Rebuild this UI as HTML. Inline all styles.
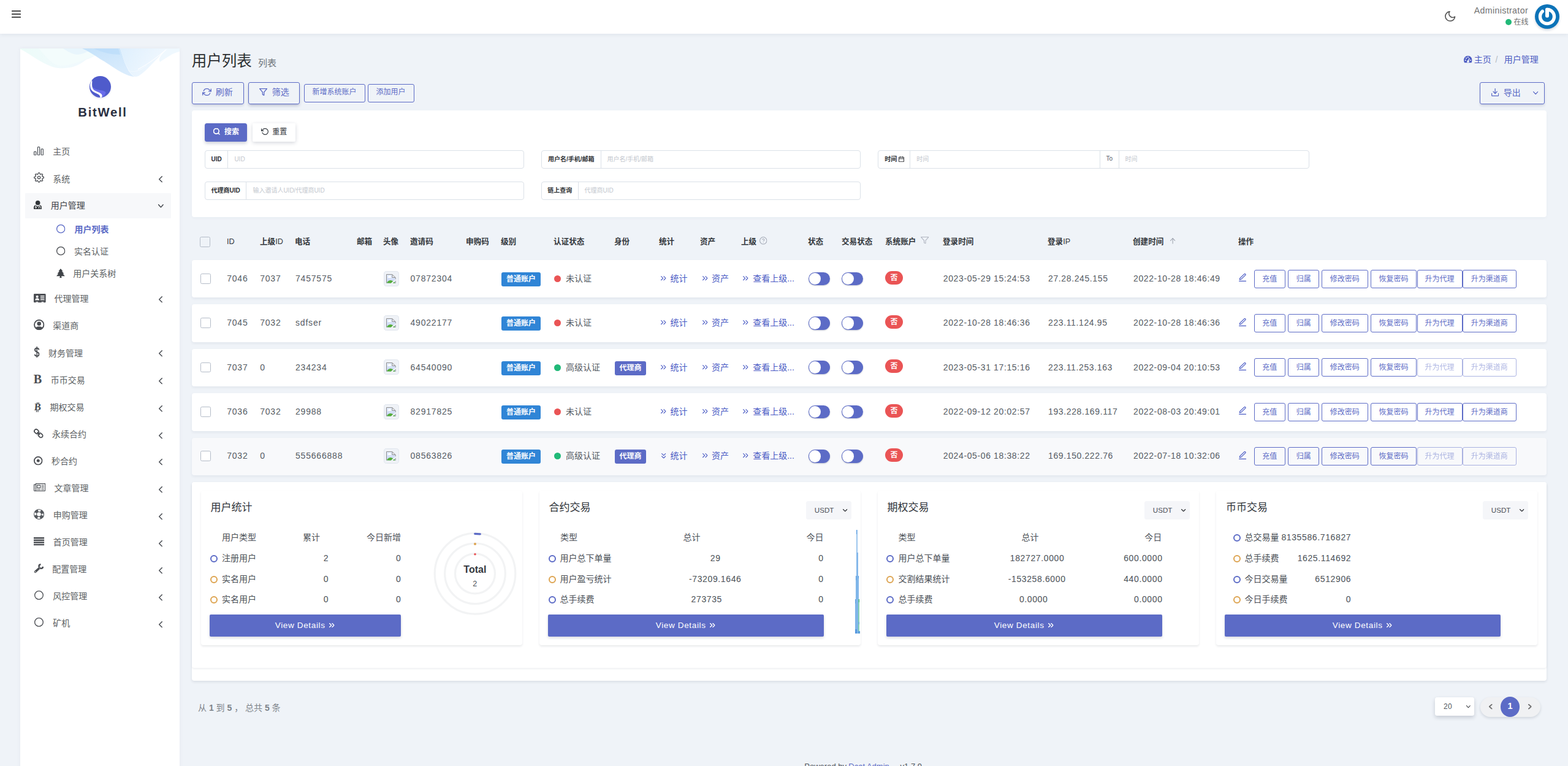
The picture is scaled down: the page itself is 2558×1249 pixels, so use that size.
<!DOCTYPE html>
<html lang="zh-CN">
<head>
<meta charset="utf-8">
<title>用户列表</title>
<style>
*{box-sizing:border-box;margin:0;padding:0}
html,body{width:2558px;height:1249px;overflow:hidden}
body{position:relative;background:#eff3f8;font-family:"Liberation Sans","Noto Sans CJK SC",sans-serif;font-size:14px;color:#414750;-webkit-font-smoothing:antialiased}
.a{position:absolute}
.t{position:absolute;white-space:nowrap}
.i{position:absolute;overflow:visible;fill:none;stroke:currentColor;stroke-width:2;stroke-linecap:round;stroke-linejoin:round}
.f{fill:currentColor;stroke:none}
.box{position:absolute;background:#fff;border-radius:4px}
.btn{position:absolute;border:1px solid #5c6bc6;border-radius:3px;color:#5c6bc6;text-align:center;white-space:nowrap}
.ob{position:absolute;top:16.200px;height:30px;line-height:29.400px;border:1px solid #5c6bc6;border-radius:3px;color:#5c6bc6;font-size:12px;text-align:center;white-space:nowrap;background:transparent}
.ob.dis{opacity:.5}
.row{position:absolute;left:313px;width:2209.500px;height:61.200px;background:#fff;border-radius:4px;box-shadow:0 2px 4px rgba(40,50,80,.07)}
.row .t{color:#555b63}
.cb{position:absolute;width:16.600px;height:16.400px;border:1.600px solid #b4bcc8;border-radius:2.500px;background:#fff}
.bd{position:absolute;height:23px;line-height:22px;border-radius:3px;color:#fff;font-size:12px;font-weight:700;text-align:center;white-space:nowrap}
.sw{position:absolute;width:35.200px;height:21.500px;border-radius:11px;background:#5c6bc6;box-shadow:0 1px 2px rgba(40,50,90,.25)}
.sw:after{content:"";position:absolute;left:1px;top:1px;width:19.500px;height:19.500px;border-radius:50%;background:#fff}
.ig{position:absolute;height:30px;border:1px solid #dbe1e8;border-radius:4px;background:#fff}
.ig .lb{position:absolute;left:0;top:0;bottom:0;border-right:1px solid #dbe1e8;font-size:10px;font-weight:700;color:#2c2f33;line-height:28.400px;text-align:center;white-space:nowrap}
.ig .ph{position:absolute;top:0;line-height:28.400px;font-size:10px;color:#c3c7ce;white-space:nowrap}
.card{position:absolute;top:800px;width:524px;height:252px;background:#fff;border-radius:4px;box-shadow:0 2px 3.500px rgba(30,40,60,.1)}
.vd{position:absolute;top:202px;height:36px;line-height:36px;background:#5c6bc6;border-radius:2px;color:#fff;font-size:14px;text-align:center;letter-spacing:.5px;box-shadow:0 2px 4px rgba(40,50,80,.18)}
.usdt{position:absolute;top:17px;width:73.500px;height:29.900px;background:#f5f6f9;border-radius:3.500px}
.dot{position:absolute;width:12px;height:12px;border-radius:50%;border:2px solid #5c6bc6;background:#fff}
.n{letter-spacing:.6px}
</style>
</head>
<body>
<svg width="0" height="0" style="position:absolute"><defs><symbol id="menu" viewBox="1.8 3.8 20.4 16.4" preserveAspectRatio="none"><line x1="3" y1="5" x2="21" y2="5"/><line x1="3" y1="12" x2="21" y2="12"/><line x1="3" y1="19" x2="21" y2="19"/></symbol><symbol id="moon" viewBox="2 2 20 20" preserveAspectRatio="none"><path d="M21 12.79A9 9 0 1 1 11.21 3 7 7 0 0 0 21 12.79z"/></symbol><symbol id="bars3" viewBox="0 0 16.100 14.600" preserveAspectRatio="none"><g stroke-width="1.300"><rect x=".65" y="8.050" width="3.200" height="5.900" rx=".9"/><rect x="6.450" y=".65" width="3.200" height="13.300" rx=".9"/><rect x="12.250" y="3.900" width="3.200" height="10.050" rx=".9"/></g></symbol><symbol id="gear" viewBox="0 0 24 24" preserveAspectRatio="none"><circle cx="12" cy="12" r="3"/><path d="M19.4 15a1.65 1.65 0 0 0 .33 1.82l.06.06a2 2 0 0 1 0 2.83 2 2 0 0 1-2.83 0l-.06-.06a1.65 1.65 0 0 0-1.82-.33 1.65 1.65 0 0 0-1 1.51V21a2 2 0 0 1-2 2 2 2 0 0 1-2-2v-.09A1.65 1.65 0 0 0 9 19.4a1.65 1.65 0 0 0-1.82.33l-.06.06a2 2 0 0 1-2.83 0 2 2 0 0 1 0-2.83l.06-.06a1.65 1.65 0 0 0 .33-1.82 1.65 1.65 0 0 0-1.51-1H3a2 2 0 0 1-2-2 2 2 0 0 1 2-2h.09A1.65 1.65 0 0 0 4.6 9a1.65 1.65 0 0 0-.33-1.82l-.06-.06a2 2 0 0 1 0-2.83 2 2 0 0 1 2.83 0l.06.06a1.65 1.65 0 0 0 1.82.33H9a1.65 1.65 0 0 0 1-1.51V3a2 2 0 0 1 2-2 2 2 0 0 1 2 2v.09a1.65 1.65 0 0 0 1 1.51 1.65 1.65 0 0 0 1.82-.33l.06-.06a2 2 0 0 1 2.83 0 2 2 0 0 1 0 2.83l-.06.06a1.65 1.65 0 0 0-.33 1.82V9a1.65 1.65 0 0 0 1.51 1H21a2 2 0 0 1 2 2 2 2 0 0 1-2 2h-.09a1.65 1.65 0 0 0-1.51 1z"/></symbol><symbol id="refresh" viewBox="0 2 24 20" preserveAspectRatio="none"><polyline points="23 4 23 10 17 10"/><polyline points="1 20 1 14 7 14"/><path d="M3.51 9a9 9 0 0 1 14.85-3.36L23 10M1 14l4.64 4.36A9 9 0 0 0 20.49 15"/></symbol><symbol id="filter" viewBox="1 2 22 20" preserveAspectRatio="none"><polygon points="22 3 2 3 10 12.46 10 19 14 21 14 12.46 22 3"/></symbol><symbol id="download" viewBox="2 2 20 20" preserveAspectRatio="none"><path d="M21 15v4a2 2 0 0 1-2 2H5a2 2 0 0 1-2-2v-4"/><polyline points="7 10 12 15 17 10"/><line x1="12" y1="15" x2="12" y2="3"/></symbol><symbol id="cdown" viewBox="5 8 14 8" preserveAspectRatio="none"><polyline points="6 9 12 15 18 9"/></symbol><symbol id="cleft" viewBox="8 5 8 14" preserveAspectRatio="none"><polyline points="15 18 9 12 15 6"/></symbol><symbol id="cright" viewBox="8 5 8 14" preserveAspectRatio="none"><polyline points="9 18 15 12 9 6"/></symbol><symbol id="search" viewBox="2 2 20 20" preserveAspectRatio="none"><circle cx="11" cy="11" r="8"/><line x1="21" y1="21" x2="16.65" y2="16.65"/></symbol><symbol id="rotate" viewBox="0 2 22 20" preserveAspectRatio="none"><polyline points="1 4 1 10 7 10"/><path d="M3.51 15a9 9 0 1 0 2.13-9.36L1 10"/></symbol><symbol id="calendar" viewBox="2 1 20 22" preserveAspectRatio="none"><rect x="3" y="4" width="18" height="18" rx="2" ry="2"/><line x1="16" y1="2" x2="16" y2="6"/><line x1="8" y1="2" x2="8" y2="6"/><line x1="3" y1="10" x2="21" y2="10"/></symbol><symbol id="help" viewBox="1 1 22 22" preserveAspectRatio="none"><circle cx="12" cy="12" r="10"/><path d="M9.09 9a3 3 0 0 1 5.83 1c0 2-3 3-3 3"/><line x1="12" y1="17" x2="12.01" y2="17"/></symbol><symbol id="aup" viewBox="4 3 16 18" preserveAspectRatio="none"><line x1="12" y1="20" x2="12" y2="4"/><polyline points="5 11 12 4 19 11"/></symbol><symbol id="edit" viewBox="2 1 20 22" preserveAspectRatio="none"><path d="M3 22h18"/><path d="M16.5 2.5a2.121 2.121 0 0 1 3 3L8 17l-4 1 1-4L16.5 2.5z"/></symbol><symbol id="cc-right" viewBox="5 6 14 12" preserveAspectRatio="none"><polyline points="13 17 18 12 13 7"/><polyline points="6 17 11 12 6 7"/></symbol><symbol id="cc-down" viewBox="6 5 12 14" preserveAspectRatio="none"><polyline points="7 13 12 18 17 13"/><polyline points="7 6 12 11 17 6"/></symbol><symbol id="circle" viewBox="1 1 22 22" preserveAspectRatio="none"><circle cx="12" cy="12" r="10"/></symbol><symbol id="user-md" viewBox="0 0 13.200 14.100" preserveAspectRatio="none"><g class="f"><circle cx="6.700" cy="3.800" r="3.800"/><path d="M3.300 7.300C1.200 7.700 0 9.300 0 12v.9c0 .7.500 1.200 1.200 1.200h10.800c.7 0 1.200-.5 1.200-1.200V12c0-2.700-1.200-4.300-3.300-4.700L6.600 9.900z"/></g><g fill="none" stroke="#fff" stroke-width=".9"><path d="M3.400 8v2.200"/><circle cx="3.400" cy="11.300" r="1.100"/><path d="M9.800 8v1.600M8.300 12.600v-1.500a1.500 1.500 0 0 1 3 0v1.500"/></g></symbol><symbol id="tree" viewBox="0 0 14 15.300" preserveAspectRatio="none"><path class="f" d="M7 0l3.600 4.200H9l3.500 4H10.600l3.400 4.100H8.300v1.600c0 .5.600.9 1.300 1v.4H4.400v-.4c.7-.1 1.300-.5 1.300-1v-1.600H0l3.400-4.100H1.500l3.500-4H3.400z"/></symbol><symbol id="idcard" viewBox="0 0 19.800 14.400" preserveAspectRatio="none"><rect class="f" x="0" y="0" width="19.800" height="14.400" rx="1.400"/><g fill="#fff" stroke="none"><circle cx="5.700" cy="4.800" r="2"/><path d="M2.300 10.600c0-2.300 1.300-3.400 3.400-3.400s3.400 1.100 3.400 3.400z"/><rect x="11" y="3" width="6.400" height="1.500"/><rect x="11" y="5.900" width="6.400" height="1.500"/><rect x="11" y="8.800" width="6.400" height="1.500"/><rect x="3.600" y="13.100" width="3.600" height="1.300"/><rect x="12.600" y="13.100" width="3.600" height="1.300"/></g></symbol><symbol id="user-circle" viewBox="0 0 17.500 17.200" preserveAspectRatio="none"><defs><clipPath id="ucc"><circle cx="8.750" cy="8.600" r="7.600"/></clipPath></defs><circle cx="8.750" cy="8.600" r="7.700" stroke-width="1.900"/><g class="f" clip-path="url(#ucc)"><circle cx="8.750" cy="6.700" r="3.300"/><path d="M2.200 15.500c.6-3 3.200-4.300 6.550-4.300s5.950 1.300 6.550 4.300l-2 2H4.200z"/></g></symbol><symbol id="dollar" viewBox="0 0 8.500 18.300" preserveAspectRatio="none"><g stroke-width="1.900" stroke-linecap="butt"><path d="M4.250 0v18.300" stroke-width="1.500"/><path d="M7.700 5.500C7.200 3.700 6 2.700 4.200 2.700 2.200 2.700.95 3.900.95 5.500c0 2 1.600 2.700 3.300 3.400 1.900.7 3.400 1.500 3.400 3.500s-1.500 3.200-3.500 3.200c-1.900 0-3.200-1-3.600-2.800"/></g></symbol><symbol id="chain" viewBox="0 0 15.700 15.400" preserveAspectRatio="none"><g stroke-width="1.800"><rect x="-3.700" y="-2.900" width="7.400" height="5.800" rx="2.600" transform="translate(4.600 4.500) rotate(45)"/><rect x="-3.700" y="-2.900" width="7.400" height="5.800" rx="2.600" transform="translate(11.100 10.900) rotate(45)"/><path d="M6.200 6.100l3.300 3.200" stroke-width="2"/></g></symbol><symbol id="dotcircle" viewBox="0 0 14.600 14.600" preserveAspectRatio="none"><circle cx="7.300" cy="7.300" r="6.400" stroke-width="1.800"/><circle class="f" cx="7.300" cy="7.300" r="2.500"/></symbol><symbol id="news" viewBox="0 0 19.400 13.300" preserveAspectRatio="none"><g stroke-width="1.250" stroke-linejoin="round"><path d="M3.500 .65h15.200v10.900a1.100 1.100 0 0 1-1.100 1.100H1.900a1.250 1.250 0 0 1-1.250-1.250V2.100h2.800"/><path d="M3.500 .65v10.600a1.250 1.250 0 0 1-1.600 1.300"/><rect x="5.700" y="3.100" width="5" height="4.600" stroke-width="1.200"/><path d="M12.600 3.200h4.100M12.600 5.500h4.100M12.600 7.700h4.100" stroke-width="1.100" stroke-linecap="butt"/><path d="M5.200 10.400h5.900M12.300 10.400h4.700" stroke-width="1.600" stroke-linecap="butt" opacity=".65"/></g></symbol><symbol id="lifering" viewBox="0 0 17.100 17.100" preserveAspectRatio="none"><circle cx="8.550" cy="8.550" r="5.950" stroke-width="4.300" stroke-linecap="butt" stroke-dasharray="5.300 4.046" stroke-dashoffset="-2.020"/><circle cx="8.550" cy="8.550" r="8" stroke-width="1.100"/><circle cx="8.550" cy="8.550" r="3.850" stroke-width="1.100"/></symbol><symbol id="justify" viewBox="0 0 17.300 13.500" preserveAspectRatio="none"><g class="f"><rect x="0" y="0" width="17.300" height="2.500"/><rect x="0" y="3.700" width="17.300" height="2.500"/><rect x="0" y="7.350" width="17.300" height="2.500"/><rect x="0" y="11" width="17.300" height="2.500"/></g></symbol><symbol id="wrench" viewBox="0 0 16 15.700" preserveAspectRatio="none"><path d="M15.090 4.890A3.300 3.300 0 1 1 11.510 1.310" stroke-width="2.400" stroke-linecap="butt"/><path d="M9.500 7L2.500 13.400" stroke-width="3.500" stroke-linecap="round"/><path d="M8.300 5.700l2.100 2.300" stroke="#fff" stroke-width=".6" stroke-linecap="butt"/><circle cx="2.700" cy="13.200" r=".8" fill="#fff" stroke="none"/></symbol><symbol id="dash" viewBox=".4 2.600 23.200 18.600" preserveAspectRatio="none"><path class="f" d="M12 2.600C5.400 2.600.4 7.800.4 14.200c0 2.300.7 4.500 1.900 6.300.3.500.8.700 1.300.7h16.800c.5 0 1-.2 1.300-.7 1.200-1.800 1.900-4 1.900-6.300C23.600 7.800 18.600 2.600 12 2.600z"/><g fill="#eff3f8" stroke="none"><circle cx="5" cy="14.400" r="1.700"/><circle cx="7.200" cy="8.800" r="1.700"/><circle cx="12" cy="6.400" r="1.700"/><circle cx="19" cy="14.400" r="1.700"/><path d="M15.400 8.300l1.900.6-2.700 6.300a3.100 3.100 0 1 1-2.400-1z"/></g></symbol><symbol id="broken" viewBox="0 0 16 15.500" preserveAspectRatio="none"><defs><linearGradient id="bsky" x1="0" y1="0" x2="0" y2="1"><stop offset="0" stop-color="#e6eefc"/><stop offset="1" stop-color="#c3d2f2"/></linearGradient></defs><g stroke="none"><path d="M.5 .5H9.800L15.400 5.700V15H.5Z" fill="url(#bsky)"/><ellipse cx="5.400" cy="4.700" rx="2.900" ry="1.250" fill="#fff"/><circle cx="5.600" cy="3.900" r="1.400" fill="#fff"/><path d="M.9 14.700C2.200 11.600 5 10 8 10.200C9.600 10.300 10.700 10.900 11.500 11.600L8.300 14.900Z" fill="#55ad3a"/><path d="M15.600 7.800L7.300 15.600H10.600L15.600 10.800Z" fill="#f0f3f7"/><path d="M10.900 14.900L13.300 12.500L15 14.900Z" fill="#55ad3a"/><path d="M10 .7V5.400H15.200Z" fill="#f3f5f8"/></g><g fill="none" stroke="#8d8d8d" stroke-width="1" stroke-linecap="butt" stroke-linejoin="miter"><path d="M.5 14.600V.5H9.800L15.400 5.700V8.300M15.400 11V14.800M10 .7V5.500H15.200"/></g></symbol></defs></svg>
<!-- ===== top navbar ===== -->
<div class="a" style="left:0;top:0;width:2558px;height:55px;background:#fff;box-shadow:0 1px 7px rgba(60,75,110,.10)"></div>
<div class="a" style="left:19px;top:17px;width:14.800px;height:2px;border-radius:.6px;background:#4d4d4d"></div><div class="a" style="left:19px;top:21.900px;width:14.800px;height:2px;border-radius:.6px;background:#4d4d4d"></div><div class="a" style="left:19px;top:26.800px;width:14.800px;height:2px;border-radius:.6px;background:#4d4d4d"></div>
<svg class="i" style="left:2356.6px;top:18.3px;width:17.5px;height:17.1px;color:#555;stroke-width:1.908;"><use href="#moon"/></svg>
<span class="t" style="right:65px;top:7.20px;line-height:20px;font-size:14.2px;color:#727272;letter-spacing:0.36px;">Administrator</span>
<div class="a" style="left:2456px;top:30.6px;width:10.4px;height:10.4px;border-radius:50%;background:#21b978"></div>
<span class="t" style="right:64.5px;top:25.80px;line-height:20px;font-size:12px;color:#6e6e6e;">在线</span>
<svg class="a" style="left:2498px;top:1px;width:52px;height:56px;overflow:visible" viewBox="0 0 52 56"><defs><filter id="avs" x="-30%" y="-30%" width="160%" height="170%"><feGaussianBlur stdDeviation="2.2"/></filter></defs><circle cx="26" cy="28.500" r="19" fill="rgba(40,50,80,.28)" filter="url(#avs)"/><circle cx="26" cy="26" r="20" fill="#0c73b8"/><path d="M26 14.500A11.500 11.500 0 1 1 18.300 17.450" fill="none" stroke="#fff" stroke-width="5.400" stroke-linecap="round"/><path d="M26 14.700V24.700" stroke="#fff" stroke-width="6" stroke-linecap="round" fill="none"/></svg>
<!-- ===== sidebar ===== -->
<div class="a" style="left:33px;top:79px;width:260px;height:1180px;background:#fff;box-shadow:0 0 6px rgba(60,75,110,.06)"></div>
<svg class="a" style="left:33px;top:79px;width:260px;height:60px" viewBox="0 0 260 60">
<defs>
<linearGradient id="wg1" x1="0" y1="0" x2="1" y2="0"><stop offset="0" stop-color="#e9fbf7"/><stop offset=".5" stop-color="#eef9fc"/><stop offset="1" stop-color="#eef7fe"/></linearGradient>
<linearGradient id="wg2" x1="0" y1="0" x2=".6" y2="1"><stop offset="0" stop-color="#bfdffa"/><stop offset="1" stop-color="#d6eafc"/></linearGradient>
<linearGradient id="wg3" x1="0" y1="0" x2="1" y2=".4"><stop offset="0" stop-color="#dceefd"/><stop offset="1" stop-color="#f1f8fe"/></linearGradient>
</defs>
<path d="M0 0H140C128 8 120 14 108 18C92 31 78 33 62 32C42 30 18 10 0 1Z" fill="url(#wg1)" opacity=".85"/>
<path d="M30 0H150C138 4 126 10 116 14C100 20 84 28 66 28C50 27 40 10 30 0Z" fill="#f3fcfc" opacity=".9"/>
<path d="M70 0H118C110 6 100 10 92 10C84 9 76 4 70 0Z" fill="#e2f2fc" opacity=".7"/>
<path d="M101 0H163L170 22C176 36 181 44 187 46C168 45 150 28 130 17C120 10 110 4 101 0Z" fill="url(#wg2)" opacity=".9"/>
<path d="M120 0H160L163 10C150 10 134 7 120 0Z" fill="#b5d9f9" opacity=".55"/>
<path d="M163 0H240C226 12 208 36 193 45C190 46 189 46 187 46C179 42 174 30 170 22Z" fill="url(#wg3)" opacity=".95"/>
<path d="M240 0H260V5C248 8 240 14 228 22C224 16 232 8 240 0Z" fill="#e9f5fe" opacity=".75"/>
<path d="M192 34C208 26 224 14 238 2" stroke="#fff" stroke-width="1.100" fill="none" opacity=".9"/>
<path d="M176 36C186 40 196 36 206 28" stroke="#fff" stroke-width=".7" fill="none" opacity=".6"/>
</svg>
<svg class="a" style="left:144px;top:122px;width:40px;height:42px;overflow:visible" viewBox="0 0 40 42">
<defs><clipPath id="lgc"><circle cx="19.500" cy="19.500" r="17.500"/></clipPath>
<filter id="lgs" x="-30%" y="-30%" width="160%" height="170%"><feGaussianBlur stdDeviation="1.500"/></filter></defs>
<circle cx="19.500" cy="21.500" r="16.500" fill="rgba(60,70,160,.22)" filter="url(#lgs)"/>
<circle cx="19.500" cy="19.500" r="17.500" fill="#4f5bcb"/>
<g clip-path="url(#lgc)">
<path d="M6.300 18.500C8.500 22.500 14 24.300 19 24.900C23 25.400 27 26.200 28.600 28.600C28.200 31.600 26.600 33.800 24.600 35.300L21.300 36.600C23 33.600 22 31.600 20 30.100C17 27.900 12 27.100 9 24.600C7.400 23.100 6.600 20.800 6.300 18.500Z" fill="#686bea"/>
<path d="M5.600 8.300C3.100 12.800 2.400 18 3.800 22.200C5 25.700 8 27.700 11 29.200C14 30.700 17 31.700 18.400 33.600C19.200 34.800 19.500 36 19.400 37.400L22 36.700C23.400 33.800 22.300 31.700 20.200 30.200C17.200 28 12.200 27.200 9.200 24.700C6.700 22.500 5.800 18.200 6.200 13.700C6.400 11.600 6.500 10 5.600 8.300Z" fill="#fff"/>
</g></svg>
<span class="t" style="left:127.3px;top:171.40px;line-height:24px;font-size:20.3px;color:#2a3042;font-weight:700;letter-spacing:1.7px;">BitWell</span>
<div class="a" style="left:40.5px;top:315px;width:238px;height:40.5px;background:#f7f8fa;border-radius:1px"></div>
<svg class="i" style="left:55.3px;top:238.5px;width:16.1px;height:14.6px;color:#555a60;"><use href="#bars3"/></svg>
<span class="t" style="left:86.3px;top:237.00px;line-height:20px;font-size:14px;color:#5c5f63;">主页</span>
<svg class="i" style="left:54.85px;top:281.1px;width:17.2px;height:16.9px;color:#4b4e53;stroke-width:1.900;"><use href="#gear"/></svg>
<span class="t" style="left:86.3px;top:281.50px;line-height:20px;font-size:14px;color:#5c5f63;">系统</span>
<svg class="i" style="left:259px;top:286.9px;width:6px;height:10.6px;color:#4a4e54;stroke-width:1.991;"><use href="#cleft"/></svg>
<svg class="i" style="left:54.85px;top:326.8px;width:13.2px;height:14.1px;color:#2f3337;"><use href="#user-md"/></svg>
<span class="t" style="left:82.8px;top:325.20px;line-height:20px;font-size:14px;color:#3e4146;">用户管理</span>
<svg class="i" style="left:258.3px;top:332.7px;width:8.8px;height:5.7px;color:#3c4046;stroke-width:2.237;"><use href="#cdown"/></svg>
<svg class="i" style="left:92.4px;top:366.1px;width:14.4px;height:14.4px;color:#5c6bc6;stroke-width:2.062;"><use href="#circle"/></svg>
<span class="t" style="left:121.5px;top:363.90px;line-height:20px;font-size:14px;color:#5c6bc6;font-weight:700;">用户列表</span>
<svg class="i" style="left:92.4px;top:402.4px;width:14.4px;height:14.4px;color:#4b4e53;stroke-width:2.062;"><use href="#circle"/></svg>
<span class="t" style="left:121px;top:400.00px;line-height:20px;font-size:14px;color:#5c5f63;">实名认证</span>
<svg class="i" style="left:92px;top:438px;width:13.9px;height:15.3px;color:#3f4348;"><use href="#tree"/></svg>
<span class="t" style="left:119.2px;top:436.00px;line-height:20px;font-size:14px;color:#5c5f63;">用户关系树</span>
<svg class="i" style="left:54.6px;top:478.5px;width:19.8px;height:14.4px;color:#4b4e53;"><use href="#idcard"/></svg>
<span class="t" style="left:88.5px;top:477.20px;line-height:20px;font-size:14px;color:#5c5f63;">代理管理</span>
<svg class="i" style="left:259px;top:482.9px;width:6px;height:10.6px;color:#4a4e54;stroke-width:1.991;"><use href="#cleft"/></svg>
<svg class="i" style="left:54.6px;top:521.2px;width:17.5px;height:17.2px;color:#4b4e53;"><use href="#user-circle"/></svg>
<span class="t" style="left:86.3px;top:521.30px;line-height:20px;font-size:14px;color:#5c5f63;">渠道商</span>
<svg class="i" style="left:55.9px;top:565.3px;width:8.5px;height:18.3px;color:#4b4e53;"><use href="#dollar"/></svg>
<span class="t" style="left:79px;top:565.60px;line-height:20px;font-size:14px;color:#5c5f63;">财务管理</span>
<svg class="i" style="left:259px;top:571.4px;width:6px;height:10.6px;color:#4a4e54;stroke-width:1.991;"><use href="#cleft"/></svg>
<span class="t" style="left:54.7px;top:607.10px;line-height:22px;font-size:20.2px;color:#4b4e53;font-weight:700;font-family:'Liberation Serif',serif;">B</span>
<span class="t" style="left:82.8px;top:610.00px;line-height:20px;font-size:14px;color:#5c5f63;">币币交易</span>
<svg class="i" style="left:259px;top:615.9px;width:6px;height:10.6px;color:#4a4e54;stroke-width:1.991;"><use href="#cleft"/></svg>
<span class="t" style="left:56.2px;top:654.60px;line-height:18px;font-size:16.6px;color:#4b4e53;font-weight:700;font-family:'Liberation Serif',serif;transform:skewX(-5deg);">B</span>
<svg class="a" style="left:55.600px;top:655.800px;width:12px;height:16px;overflow:visible;color:#4b4e53" viewBox="0 0 12 16"><path d="M4.600 0v2.900M7.100 0v2.900M3.500 13.300v2.700M6 13.300v2.700" stroke="currentColor" stroke-width="1.300" stroke-linecap="butt" fill="none"/></svg>
<span class="t" style="left:81.4px;top:654.30px;line-height:20px;font-size:14px;color:#5c5f63;">期权交易</span>
<svg class="i" style="left:259px;top:660.6999999999999px;width:6px;height:10.6px;color:#4a4e54;stroke-width:1.991;"><use href="#cleft"/></svg>
<svg class="i" style="left:55px;top:698.7px;width:15.7px;height:15.4px;color:#4b4e53;"><use href="#chain"/></svg>
<span class="t" style="left:85px;top:698.40px;line-height:20px;font-size:14px;color:#5c5f63;">永续合约</span>
<svg class="i" style="left:259px;top:704.6999999999999px;width:6px;height:10.6px;color:#4a4e54;stroke-width:1.991;"><use href="#cleft"/></svg>
<svg class="i" style="left:54.95px;top:743.7px;width:14.6px;height:14.6px;color:#4b4e53;"><use href="#dotcircle"/></svg>
<span class="t" style="left:84px;top:742.00px;line-height:20px;font-size:14px;color:#5c5f63;">秒合约</span>
<svg class="i" style="left:259px;top:748.4px;width:6px;height:10.6px;color:#4a4e54;stroke-width:1.991;"><use href="#cleft"/></svg>
<svg class="i" style="left:55px;top:787.6px;width:19.4px;height:13.3px;color:#505459;"><use href="#news"/></svg>
<span class="t" style="left:88.5px;top:786.10px;line-height:20px;font-size:14px;color:#5c5f63;">文章管理</span>
<svg class="i" style="left:259px;top:792.6999999999999px;width:6px;height:10.6px;color:#4a4e54;stroke-width:1.991;"><use href="#cleft"/></svg>
<svg class="i" style="left:55px;top:830.2px;width:17.1px;height:17.1px;color:#55595e;"><use href="#lifering"/></svg>
<span class="t" style="left:86.7px;top:830.20px;line-height:20px;font-size:14px;color:#5c5f63;">申购管理</span>
<svg class="i" style="left:259px;top:836.9px;width:6px;height:10.6px;color:#4a4e54;stroke-width:1.991;"><use href="#cleft"/></svg>
<svg class="i" style="left:54.95px;top:875.7px;width:17.3px;height:13.5px;color:#4b4e53;"><use href="#justify"/></svg>
<span class="t" style="left:86.7px;top:873.90px;line-height:20px;font-size:14px;color:#5c5f63;">首页管理</span>
<svg class="i" style="left:259px;top:880.8px;width:6px;height:10.6px;color:#4a4e54;stroke-width:1.991;"><use href="#cleft"/></svg>
<svg class="i" style="left:55px;top:919.3px;width:16px;height:15.7px;color:#4b4e53;"><use href="#wrench"/></svg>
<span class="t" style="left:85.3px;top:918.30px;line-height:20px;font-size:14px;color:#5c5f63;">配置管理</span>
<svg class="i" style="left:259px;top:924.9px;width:6px;height:10.6px;color:#4a4e54;stroke-width:1.991;"><use href="#cleft"/></svg>
<svg class="i" style="left:55.9px;top:963.1px;width:15px;height:15px;color:#4b4e53;stroke-width:1.980;"><use href="#circle"/></svg>
<span class="t" style="left:86.3px;top:962.30px;line-height:20px;font-size:14px;color:#5c5f63;">风控管理</span>
<svg class="i" style="left:259px;top:968.9px;width:6px;height:10.6px;color:#4a4e54;stroke-width:1.991;"><use href="#cleft"/></svg>
<svg class="i" style="left:55.9px;top:1006.9px;width:15px;height:15px;color:#4b4e53;stroke-width:1.980;"><use href="#circle"/></svg>
<span class="t" style="left:86.3px;top:1006.40px;line-height:20px;font-size:14px;color:#5c5f63;">矿机</span>
<svg class="i" style="left:259px;top:1012.9px;width:6px;height:10.6px;color:#4a4e54;stroke-width:1.991;"><use href="#cleft"/></svg>
<!-- ===== page title + breadcrumb ===== -->
<span class="t" style="left:312.7px;top:85.00px;line-height:30px;font-size:24.5px;color:#2b2e31;">用户列表</span>
<span class="t" style="left:421px;top:92.50px;line-height:20px;font-size:15px;color:#6d747b;">列表</span>
<svg class="i" style="left:2387.5px;top:91px;width:13.6px;height:11.6px;color:#4c5bc2;"><use href="#dash"/></svg>
<span class="t" style="left:2404.8px;top:87.20px;line-height:20px;font-size:14px;color:#4c5bc2;">主页</span>
<span class="t" style="left:2439.5px;top:87.20px;line-height:20px;font-size:14px;color:#b5bac2;">/</span>
<span class="t" style="left:2453.8px;top:87.20px;line-height:20px;font-size:14px;color:#4c5bc2;">用户管理</span>
<!-- ===== toolbar ===== -->
<div class="btn" style="left:313px;top:134px;width:85px;height:36px;box-shadow:0 3px 4px -1px rgba(60,70,120,.22);"></div>
<svg class="i" style="left:330.3px;top:143.7px;width:14.9px;height:12.1px;color:#5c6bc6;stroke-width:2.121;"><use href="#refresh"/></svg>
<span class="t" style="left:351.8px;top:140.20px;line-height:20px;font-size:14px;color:#5c6bc6;">刷新</span>
<div class="btn" style="left:405px;top:134px;width:84px;height:36px;box-shadow:0 3px 5px -1px rgba(50,60,110,.32);"></div>
<svg class="i" style="left:422.8px;top:144px;width:13.1px;height:11.9px;color:#5c6bc6;stroke-width:2.184;"><use href="#filter"/></svg>
<span class="t" style="left:443.8px;top:140.20px;line-height:20px;font-size:14px;color:#5c6bc6;">筛选</span>
<div class="btn" style="left:496px;top:137px;width:100px;height:30px"></div>
<span class="t" style="left:509.6px;top:140.40px;line-height:20px;font-size:12px;color:#5c6bc6;">新增系统账户</span>
<div class="btn" style="left:600px;top:137px;width:76px;height:30px"></div>
<span class="t" style="left:613.5px;top:140.40px;line-height:20px;font-size:12px;color:#5c6bc6;">添加用户</span>
<div class="btn" style="left:2414px;top:134px;width:106px;height:36px;box-shadow:0 3px 4px -1px rgba(60,70,120,.22);"></div>
<svg class="i" style="left:2432.8px;top:144px;width:12.3px;height:13.1px;color:#5c6bc6;stroke-width:2.047;"><use href="#download"/></svg>
<span class="t" style="left:2452.7px;top:141.00px;line-height:20px;font-size:14px;color:#5c6bc6;">导出</span>
<svg class="i" style="left:2500.9px;top:149.1px;width:8.4px;height:5.1px;color:#5c6bc6;stroke-width:2.101;"><use href="#cdown"/></svg>
<!-- ===== filter panel ===== -->
<div class="box" style="left:313px;top:179.5px;width:2209.5px;height:174.5px;box-shadow:0 2px 4px rgba(40,50,80,.03)"></div>
<div class="a" style="left:334px;top:201px;width:69px;height:30px;background:#5c6bc6;border-radius:3.5px;box-shadow:0 3px 5px rgba(40,50,90,.22)"></div>
<svg class="i" style="left:348.1px;top:209.1px;width:10.8px;height:10.8px;color:#fff;stroke-width:3.148;"><use href="#search"/></svg>
<span class="t" style="left:366px;top:205.20px;line-height:20px;font-size:12px;color:#fff;font-weight:700;">搜索</span>
<div class="a" style="left:412px;top:201px;width:70px;height:30px;background:#fff;border-radius:2px;box-shadow:0 2px 6px rgba(40,50,80,.2)"></div>
<svg class="i" style="left:425.9px;top:208.9px;width:11.9px;height:11px;color:#3d4249;stroke-width:2.292;"><use href="#rotate"/></svg>
<span class="t" style="left:444.3px;top:205.20px;line-height:20px;font-size:12px;color:#32363c;">重置</span>
<div class="ig" style="left:334px;top:245px;width:521px"><div class="lb" style="width:37.4px">UID</div><div class="ph" style="left:47.4px">UID</div></div>
<div class="ig" style="left:883px;top:245px;width:521px"><div class="lb" style="width:96.5px">用户名/手机/邮箱</div><div class="ph" style="left:106.5px">用户名/手机/邮箱</div></div>
<div class="ig" style="left:334px;top:296px;width:521px"><div class="lb" style="width:67.4px">代理商UID</div><div class="ph" style="left:77.4px">输入邀请人UID/代理商UID</div></div>
<div class="ig" style="left:883px;top:296px;width:521px"><div class="lb" style="width:59.5px">链上查询</div><div class="ph" style="left:69.5px">代理商UID</div></div>
<div class="ig" style="left:1432px;top:245px;width:704px"><div class="lb" style="width:51.600px;text-align:left;padding-left:10.200px">时间</div><div class="ph" style="left:62.300px">时间</div><div class="a" style="left:361px;top:0;bottom:0;width:31.600px;border-left:1px solid #dbe1e8;border-right:1px solid #dbe1e8;font-size:10px;color:#555b66;text-align:center;line-height:25px">To</div><div class="ph" style="left:402.500px">时间</div></div>
<svg class="i" style="left:1465.8px;top:254.8px;width:9px;height:9.2px;color:#33363b;stroke-width:2.534;"><use href="#calendar"/></svg>
<!-- ===== table header ===== -->
<div class="cb" style="left:326px;top:386px;background:transparent;width:17px;height:16.800px"></div>
<span class="t" style="left:370px;top:384.00px;line-height:20px;font-size:12.6px;color:#33373c;"><span style="font-weight:400">ID</span></span>
<span class="t" style="left:424px;top:384.00px;line-height:20px;font-size:12.6px;color:#33373c;"><b>上级</b><span style="font-weight:400">ID</span></span>
<span class="t" style="left:481px;top:384.00px;line-height:20px;font-size:12.6px;color:#33373c;"><b>电话</b></span>
<span class="t" style="left:582px;top:384.00px;line-height:20px;font-size:12.6px;color:#33373c;"><b>邮箱</b></span>
<span class="t" style="left:625px;top:384.00px;line-height:20px;font-size:12.6px;color:#33373c;"><b>头像</b></span>
<span class="t" style="left:669px;top:384.00px;line-height:20px;font-size:12.6px;color:#33373c;"><b>邀请码</b></span>
<span class="t" style="left:760px;top:384.00px;line-height:20px;font-size:12.6px;color:#33373c;"><b>申购码</b></span>
<span class="t" style="left:817px;top:384.00px;line-height:20px;font-size:12.6px;color:#33373c;"><b>级别</b></span>
<span class="t" style="left:903px;top:384.00px;line-height:20px;font-size:12.6px;color:#33373c;"><b>认证状态</b></span>
<span class="t" style="left:1002px;top:384.00px;line-height:20px;font-size:12.6px;color:#33373c;"><b>身份</b></span>
<span class="t" style="left:1075px;top:384.00px;line-height:20px;font-size:12.6px;color:#33373c;"><b>统计</b></span>
<span class="t" style="left:1142px;top:384.00px;line-height:20px;font-size:12.6px;color:#33373c;"><b>资产</b></span>
<span class="t" style="left:1209px;top:384.00px;line-height:20px;font-size:12.6px;color:#33373c;"><b>上级</b></span>
<svg class="i" style="left:1239.1px;top:386.3px;width:12.5px;height:12.7px;color:#a3a9b6;stroke-width:1.833;"><use href="#help"/></svg>
<span class="t" style="left:1318px;top:384.00px;line-height:20px;font-size:12.6px;color:#33373c;"><b>状态</b></span>
<span class="t" style="left:1373px;top:384.00px;line-height:20px;font-size:12.6px;color:#33373c;"><b>交易状态</b></span>
<span class="t" style="left:1444px;top:384.00px;line-height:20px;font-size:12.6px;color:#33373c;"><b>系统账户</b></span>
<svg class="i" style="left:1501.9px;top:385.7px;width:13.5px;height:11.6px;color:#b0b5c0;stroke-width:1.759;"><use href="#filter"/></svg>
<span class="t" style="left:1538px;top:384.00px;line-height:20px;font-size:12.6px;color:#33373c;"><b>登录时间</b></span>
<span class="t" style="left:1709px;top:384.00px;line-height:20px;font-size:12.6px;color:#33373c;"><b>登录</b><span style="font-weight:400">IP</span></span>
<span class="t" style="left:1848px;top:384.00px;line-height:20px;font-size:12.6px;color:#33373c;"><b>创建时间</b></span>
<svg class="i" style="left:1909px;top:388px;width:8.4px;height:9.7px;color:#a0a5b0;stroke-width:2.068;"><use href="#aup"/></svg>
<span class="t" style="left:2020px;top:384.00px;line-height:20px;font-size:12.6px;color:#33373c;"><b>操作</b></span>
<!-- ===== table rows ===== -->
<div class="row" style="top:423.8px;height:61.2px;"><div class="a" style="left:0;top:0px;width:100%;height:100%"><div class="cb" style="left:14.100px;top:22.400px"></div><span class="t" style="left:57.30000000000001px;top:20.30px;line-height:20px;font-size:14px;color:#555b63;letter-spacing:0.75px;">7046</span><span class="t" style="left:111.30000000000001px;top:20.30px;line-height:20px;font-size:14px;color:#555b63;letter-spacing:0.75px;">7037</span><span class="t" style="left:169px;top:20.30px;line-height:20px;font-size:14px;color:#555b63;letter-spacing:0.8px;">7457575</span><div class="a" style="left:313.100px;top:18.200px;width:25px;height:25px;border:1px solid #e1e6ee;border-radius:4.600px;background:#eff2f7"></div><svg class="i" style="left:317.1px;top:23.2px;width:15.9px;height:15.4px;stroke:none;"><use href="#broken"/></svg><span class="t" style="left:356.5px;top:20.30px;line-height:20px;font-size:14px;color:#555b63;letter-spacing:0.8px;">07872304</span><div class="bd" style="left:505px;top:20.300px;width:64px;background:#3085d6">普通账户</div><div class="a" style="left:590.800px;top:25.300px;width:11px;height:11px;border-radius:50%;background:#ea5455"></div><span class="t" style="left:610px;top:20.30px;line-height:20px;font-size:14px;color:#555b63;">未认证</span><svg class="i" style="left:765.4px;top:26.4px;width:8.6px;height:7.4px;color:#4a5bc4;stroke-width:1.868;"><use href="#cc-right"/></svg><span class="t" style="left:780.5px;top:20.40px;line-height:20px;font-size:14px;color:#4a5bc4;">统计</span><svg class="i" style="left:832.5px;top:26.4px;width:8.6px;height:7.4px;color:#4a5bc4;stroke-width:1.868;"><use href="#cc-right"/></svg><span class="t" style="left:848px;top:20.30px;line-height:20px;font-size:14px;color:#4a5bc4;">资产</span><svg class="i" style="left:899.2px;top:26.4px;width:8.6px;height:7.4px;color:#4a5bc4;stroke-width:1.868;"><use href="#cc-right"/></svg><span class="t" style="left:915.2px;top:20.40px;line-height:20px;font-size:14px;color:#4a5bc4;">查看上级...</span><div class="sw" style="left:1005.900px;top:20.100px"></div><div class="sw" style="left:1059.700px;top:20.100px"></div><div class="bd" style="left:1130.900px;top:18px;width:29.300px;height:22.200px;line-height:22px;border-radius:11.100px;background:#ea5455">否</div><span class="t" style="left:1225.8px;top:20.30px;line-height:20px;font-size:14px;color:#555b63;letter-spacing:0.62px;">2023-05-29 15:24:53</span><span class="t" style="left:1397px;top:20.30px;line-height:20px;font-size:14px;color:#555b63;letter-spacing:0.62px;">27.28.245.155</span><span class="t" style="left:1536px;top:20.30px;line-height:20px;font-size:14px;color:#555b63;letter-spacing:0.62px;">2022-10-28 18:46:49</span><svg class="i" style="left:1708.3px;top:22.6px;width:12.2px;height:12.9px;color:#4a5bc4;stroke-width:2.006;"><use href="#edit"/></svg><div class="ob" style="left:1733px;width:50.700px">充值</div><div class="ob" style="left:1788.200px;width:51.300px">归属</div><div class="ob" style="left:1843.100px;width:75.500px">修改密码</div><div class="ob" style="left:1923px;width:75px">恢复密码</div><div class="ob" style="left:1998.500px;width:74px">升为代理</div><div class="ob" style="left:2073px;width:87.500px">升为渠道商</div></div></div>
<div class="row" style="top:496px;height:62px;"><div class="a" style="left:0;top:0px;width:100%;height:100%"><div class="cb" style="left:14.100px;top:22.400px"></div><span class="t" style="left:57.30000000000001px;top:20.30px;line-height:20px;font-size:14px;color:#555b63;letter-spacing:0.75px;">7045</span><span class="t" style="left:111.30000000000001px;top:20.30px;line-height:20px;font-size:14px;color:#555b63;letter-spacing:0.75px;">7032</span><span class="t" style="left:169px;top:20.30px;line-height:20px;font-size:14px;color:#555b63;letter-spacing:0.8px;">sdfser</span><div class="a" style="left:313.100px;top:18.200px;width:25px;height:25px;border:1px solid #e1e6ee;border-radius:4.600px;background:#eff2f7"></div><svg class="i" style="left:317.1px;top:23.2px;width:15.9px;height:15.4px;stroke:none;"><use href="#broken"/></svg><span class="t" style="left:356.5px;top:20.30px;line-height:20px;font-size:14px;color:#555b63;letter-spacing:0.8px;">49022177</span><div class="bd" style="left:505px;top:20.300px;width:64px;background:#3085d6">普通账户</div><div class="a" style="left:590.800px;top:25.300px;width:11px;height:11px;border-radius:50%;background:#ea5455"></div><span class="t" style="left:610px;top:20.30px;line-height:20px;font-size:14px;color:#555b63;">未认证</span><svg class="i" style="left:765.4px;top:26.4px;width:8.6px;height:7.4px;color:#4a5bc4;stroke-width:1.868;"><use href="#cc-right"/></svg><span class="t" style="left:780.5px;top:20.40px;line-height:20px;font-size:14px;color:#4a5bc4;">统计</span><svg class="i" style="left:832.5px;top:26.4px;width:8.6px;height:7.4px;color:#4a5bc4;stroke-width:1.868;"><use href="#cc-right"/></svg><span class="t" style="left:848px;top:20.30px;line-height:20px;font-size:14px;color:#4a5bc4;">资产</span><svg class="i" style="left:899.2px;top:26.4px;width:8.6px;height:7.4px;color:#4a5bc4;stroke-width:1.868;"><use href="#cc-right"/></svg><span class="t" style="left:915.2px;top:20.40px;line-height:20px;font-size:14px;color:#4a5bc4;">查看上级...</span><div class="sw" style="left:1005.900px;top:20.100px"></div><div class="sw" style="left:1059.700px;top:20.100px"></div><div class="bd" style="left:1130.900px;top:18px;width:29.300px;height:22.200px;line-height:22px;border-radius:11.100px;background:#ea5455">否</div><span class="t" style="left:1225.8px;top:20.30px;line-height:20px;font-size:14px;color:#555b63;letter-spacing:0.62px;">2022-10-28 18:46:36</span><span class="t" style="left:1397px;top:20.30px;line-height:20px;font-size:14px;color:#555b63;letter-spacing:0.62px;">223.11.124.95</span><span class="t" style="left:1536px;top:20.30px;line-height:20px;font-size:14px;color:#555b63;letter-spacing:0.62px;">2022-10-28 18:46:36</span><svg class="i" style="left:1708.3px;top:22.6px;width:12.2px;height:12.9px;color:#4a5bc4;stroke-width:2.006;"><use href="#edit"/></svg><div class="ob" style="left:1733px;width:50.700px">充值</div><div class="ob" style="left:1788.200px;width:51.300px">归属</div><div class="ob" style="left:1843.100px;width:75.500px">修改密码</div><div class="ob" style="left:1923px;width:75px">恢复密码</div><div class="ob" style="left:1998.500px;width:74px">升为代理</div><div class="ob" style="left:2073px;width:87.500px">升为渠道商</div></div></div>
<div class="row" style="top:568.9px;height:61.1px;"><div class="a" style="left:0;top:-0.7px;width:100%;height:100%"><div class="cb" style="left:14.100px;top:22.400px"></div><span class="t" style="left:57.30000000000001px;top:20.30px;line-height:20px;font-size:14px;color:#555b63;letter-spacing:0.75px;">7037</span><span class="t" style="left:111.30000000000001px;top:20.30px;line-height:20px;font-size:14px;color:#555b63;letter-spacing:0.75px;">0</span><span class="t" style="left:169px;top:20.30px;line-height:20px;font-size:14px;color:#555b63;letter-spacing:0.8px;">234234</span><div class="a" style="left:313.100px;top:18.200px;width:25px;height:25px;border:1px solid #e1e6ee;border-radius:4.600px;background:#eff2f7"></div><svg class="i" style="left:317.1px;top:23.2px;width:15.9px;height:15.4px;stroke:none;"><use href="#broken"/></svg><span class="t" style="left:356.5px;top:20.30px;line-height:20px;font-size:14px;color:#555b63;letter-spacing:0.8px;">64540090</span><div class="bd" style="left:505px;top:20.300px;width:64px;background:#3085d6">普通账户</div><div class="a" style="left:590.800px;top:25.300px;width:11px;height:11px;border-radius:50%;background:#21b978"></div><span class="t" style="left:610px;top:20.30px;line-height:20px;font-size:14px;color:#555b63;">高级认证</span><div class="bd" style="left:690px;top:20.300px;width:51px;background:#5c6bc6">代理商</div><svg class="i" style="left:765.4px;top:26.4px;width:8.6px;height:7.4px;color:#4a5bc4;stroke-width:1.868;"><use href="#cc-right"/></svg><span class="t" style="left:780.5px;top:20.40px;line-height:20px;font-size:14px;color:#4a5bc4;">统计</span><svg class="i" style="left:832.5px;top:26.4px;width:8.6px;height:7.4px;color:#4a5bc4;stroke-width:1.868;"><use href="#cc-right"/></svg><span class="t" style="left:848px;top:20.30px;line-height:20px;font-size:14px;color:#4a5bc4;">资产</span><svg class="i" style="left:899.2px;top:26.4px;width:8.6px;height:7.4px;color:#4a5bc4;stroke-width:1.868;"><use href="#cc-right"/></svg><span class="t" style="left:915.2px;top:20.40px;line-height:20px;font-size:14px;color:#4a5bc4;">查看上级...</span><div class="sw" style="left:1005.900px;top:20.100px"></div><div class="sw" style="left:1059.700px;top:20.100px"></div><div class="bd" style="left:1130.900px;top:18px;width:29.300px;height:22.200px;line-height:22px;border-radius:11.100px;background:#ea5455">否</div><span class="t" style="left:1225.8px;top:20.30px;line-height:20px;font-size:14px;color:#555b63;letter-spacing:0.62px;">2023-05-31 17:15:16</span><span class="t" style="left:1397px;top:20.30px;line-height:20px;font-size:14px;color:#555b63;letter-spacing:0.62px;">223.11.253.163</span><span class="t" style="left:1536px;top:20.30px;line-height:20px;font-size:14px;color:#555b63;letter-spacing:0.62px;">2022-09-04 20:10:53</span><svg class="i" style="left:1708.3px;top:22.6px;width:12.2px;height:12.9px;color:#4a5bc4;stroke-width:2.006;"><use href="#edit"/></svg><div class="ob" style="left:1733px;width:50.700px">充值</div><div class="ob" style="left:1788.200px;width:51.300px">归属</div><div class="ob" style="left:1843.100px;width:75.500px">修改密码</div><div class="ob" style="left:1923px;width:75px">恢复密码</div><div class="ob dis" style="left:1998.500px;width:74px">升为代理</div><div class="ob dis" style="left:2073px;width:87.500px">升为渠道商</div></div></div>
<div class="row" style="top:641.1px;height:61.6px;"><div class="a" style="left:0;top:-0.3px;width:100%;height:100%"><div class="cb" style="left:14.100px;top:22.400px"></div><span class="t" style="left:57.30000000000001px;top:20.30px;line-height:20px;font-size:14px;color:#555b63;letter-spacing:0.75px;">7036</span><span class="t" style="left:111.30000000000001px;top:20.30px;line-height:20px;font-size:14px;color:#555b63;letter-spacing:0.75px;">7032</span><span class="t" style="left:169px;top:20.30px;line-height:20px;font-size:14px;color:#555b63;letter-spacing:0.8px;">29988</span><div class="a" style="left:313.100px;top:18.200px;width:25px;height:25px;border:1px solid #e1e6ee;border-radius:4.600px;background:#eff2f7"></div><svg class="i" style="left:317.1px;top:23.2px;width:15.9px;height:15.4px;stroke:none;"><use href="#broken"/></svg><span class="t" style="left:356.5px;top:20.30px;line-height:20px;font-size:14px;color:#555b63;letter-spacing:0.8px;">82917825</span><div class="bd" style="left:505px;top:20.300px;width:64px;background:#3085d6">普通账户</div><div class="a" style="left:590.800px;top:25.300px;width:11px;height:11px;border-radius:50%;background:#ea5455"></div><span class="t" style="left:610px;top:20.30px;line-height:20px;font-size:14px;color:#555b63;">未认证</span><svg class="i" style="left:765.4px;top:26.4px;width:8.6px;height:7.4px;color:#4a5bc4;stroke-width:1.868;"><use href="#cc-right"/></svg><span class="t" style="left:780.5px;top:20.40px;line-height:20px;font-size:14px;color:#4a5bc4;">统计</span><svg class="i" style="left:832.5px;top:26.4px;width:8.6px;height:7.4px;color:#4a5bc4;stroke-width:1.868;"><use href="#cc-right"/></svg><span class="t" style="left:848px;top:20.30px;line-height:20px;font-size:14px;color:#4a5bc4;">资产</span><svg class="i" style="left:899.2px;top:26.4px;width:8.6px;height:7.4px;color:#4a5bc4;stroke-width:1.868;"><use href="#cc-right"/></svg><span class="t" style="left:915.2px;top:20.40px;line-height:20px;font-size:14px;color:#4a5bc4;">查看上级...</span><div class="sw" style="left:1005.900px;top:20.100px"></div><div class="sw" style="left:1059.700px;top:20.100px"></div><div class="bd" style="left:1130.900px;top:18px;width:29.300px;height:22.200px;line-height:22px;border-radius:11.100px;background:#ea5455">否</div><span class="t" style="left:1225.8px;top:20.30px;line-height:20px;font-size:14px;color:#555b63;letter-spacing:0.62px;">2022-09-12 20:02:57</span><span class="t" style="left:1397px;top:20.30px;line-height:20px;font-size:14px;color:#555b63;letter-spacing:0.62px;">193.228.169.117</span><span class="t" style="left:1536px;top:20.30px;line-height:20px;font-size:14px;color:#555b63;letter-spacing:0.62px;">2022-08-03 20:49:01</span><svg class="i" style="left:1708.3px;top:22.6px;width:12.2px;height:12.9px;color:#4a5bc4;stroke-width:2.006;"><use href="#edit"/></svg><div class="ob" style="left:1733px;width:50.700px">充值</div><div class="ob" style="left:1788.200px;width:51.300px">归属</div><div class="ob" style="left:1843.100px;width:75.500px">修改密码</div><div class="ob" style="left:1923px;width:75px">恢复密码</div><div class="ob" style="left:1998.500px;width:74px">升为代理</div><div class="ob" style="left:2073px;width:87.500px">升为渠道商</div></div></div>
<div class="row" style="top:713.8px;height:61.1px;background:#f8f9fb;"><div class="a" style="left:0;top:-0.9px;width:100%;height:100%"><div class="cb" style="left:14.100px;top:22.400px"></div><span class="t" style="left:57.30000000000001px;top:20.30px;line-height:20px;font-size:14px;color:#555b63;letter-spacing:0.75px;">7032</span><span class="t" style="left:111.30000000000001px;top:20.30px;line-height:20px;font-size:14px;color:#555b63;letter-spacing:0.75px;">0</span><span class="t" style="left:169px;top:20.30px;line-height:20px;font-size:14px;color:#555b63;letter-spacing:0.8px;">555666888</span><div class="a" style="left:313.100px;top:18.200px;width:25px;height:25px;border:1px solid #e1e6ee;border-radius:4.600px;background:#eff2f7"></div><svg class="i" style="left:317.1px;top:23.2px;width:15.9px;height:15.4px;stroke:none;"><use href="#broken"/></svg><span class="t" style="left:356.5px;top:20.30px;line-height:20px;font-size:14px;color:#555b63;letter-spacing:0.8px;">08563826</span><div class="bd" style="left:505px;top:20.300px;width:64px;background:#3085d6">普通账户</div><div class="a" style="left:590.800px;top:25.300px;width:11px;height:11px;border-radius:50%;background:#21b978"></div><span class="t" style="left:610px;top:20.30px;line-height:20px;font-size:14px;color:#555b63;">高级认证</span><div class="bd" style="left:690px;top:20.300px;width:51px;background:#5c6bc6">代理商</div><svg class="i" style="left:766px;top:25.8px;width:7.4px;height:8.6px;color:#4a5bc4;stroke-width:1.868;"><use href="#cc-down"/></svg><span class="t" style="left:780.5px;top:20.40px;line-height:20px;font-size:14px;color:#4a5bc4;">统计</span><svg class="i" style="left:832.5px;top:26.4px;width:8.6px;height:7.4px;color:#4a5bc4;stroke-width:1.868;"><use href="#cc-right"/></svg><span class="t" style="left:848px;top:20.30px;line-height:20px;font-size:14px;color:#4a5bc4;">资产</span><svg class="i" style="left:899.2px;top:26.4px;width:8.6px;height:7.4px;color:#4a5bc4;stroke-width:1.868;"><use href="#cc-right"/></svg><span class="t" style="left:915.2px;top:20.40px;line-height:20px;font-size:14px;color:#4a5bc4;">查看上级...</span><div class="sw" style="left:1005.900px;top:20.100px"></div><div class="sw" style="left:1059.700px;top:20.100px"></div><div class="bd" style="left:1130.900px;top:18px;width:29.300px;height:22.200px;line-height:22px;border-radius:11.100px;background:#ea5455">否</div><span class="t" style="left:1225.8px;top:20.30px;line-height:20px;font-size:14px;color:#555b63;letter-spacing:0.62px;">2024-05-06 18:38:22</span><span class="t" style="left:1397px;top:20.30px;line-height:20px;font-size:14px;color:#555b63;letter-spacing:0.62px;">169.150.222.76</span><span class="t" style="left:1536px;top:20.30px;line-height:20px;font-size:14px;color:#555b63;letter-spacing:0.62px;">2022-07-18 10:32:06</span><svg class="i" style="left:1708.3px;top:22.6px;width:12.2px;height:12.9px;color:#4a5bc4;stroke-width:2.006;"><use href="#edit"/></svg><div class="ob" style="left:1733px;width:50.700px">充值</div><div class="ob" style="left:1788.200px;width:51.300px">归属</div><div class="ob" style="left:1843.100px;width:75.500px">修改密码</div><div class="ob" style="left:1923px;width:75px">恢复密码</div><div class="ob dis" style="left:1998.500px;width:74px">升为代理</div><div class="ob dis" style="left:2073px;width:87.500px">升为渠道商</div></div></div>
<!-- ===== stats panel ===== -->
<div class="box" style="left:313px;top:786px;width:2209.500px;height:324px;box-shadow:0 2px 4px rgba(30,40,60,.1)"></div>
<div class="box" style="left:313px;top:786px;width:2209.500px;height:302.500px;box-shadow:0 2px 3px rgba(40,50,80,.07)"></div>
<div class="card" style="left:328px"><span class="t" style="left:15.5px;top:16.00px;line-height:24px;font-size:17px;color:#30343a;">用户统计</span><span class="t" style="left:34px;top:66.30px;line-height:20px;font-size:14px;color:#4a4f56;">用户类型</span><span class="t" style="left:166px;top:66.30px;line-height:20px;font-size:14px;color:#4a4f56;">累计</span><span class="t" style="left:270px;top:66.30px;line-height:20px;font-size:14px;color:#4a4f56;">今日新增</span><div class="dot" style="left:14.7px;top:105.3px;border-color:#5c6bc6"></div><span class="t" style="left:34px;top:100.30px;line-height:20px;font-size:14px;color:#4a4f56;">注册用户</span><span class="t" style="left:199.8px;top:100.30px;line-height:20px;font-size:14px;color:#4a4f56;">2</span><span class="t" style="left:318px;top:100.30px;line-height:20px;font-size:14px;color:#4a4f56;">0</span><div class="dot" style="left:14.7px;top:139.3px;border-color:#dda451"></div><span class="t" style="left:34px;top:134.30px;line-height:20px;font-size:14px;color:#4a4f56;">实名用户</span><span class="t" style="left:199.8px;top:134.30px;line-height:20px;font-size:14px;color:#4a4f56;">0</span><span class="t" style="left:318px;top:134.30px;line-height:20px;font-size:14px;color:#4a4f56;">0</span><div class="dot" style="left:14.7px;top:172.3px;border-color:#dda451"></div><span class="t" style="left:34px;top:167.30px;line-height:20px;font-size:14px;color:#4a4f56;">实名用户</span><span class="t" style="left:199.8px;top:167.30px;line-height:20px;font-size:14px;color:#4a4f56;">0</span><span class="t" style="left:318px;top:167.30px;line-height:20px;font-size:14px;color:#4a4f56;">0</span><div class="vd" style="left:14px;width:312px"></div><span class="t" style="left:120.8px;top:210.35px;line-height:20px;font-size:13.6px;color:#fff;letter-spacing:0.6px;">View Details</span><svg class="i" style="left:208.8px;top:216.1px;width:8.6px;height:7px;color:#fff;stroke-width:2.338;"><use href="#cc-right"/></svg><svg class="a" style="left:372px;top:60px;width:150px;height:150px" viewBox="0 0 150 150">
<g fill="none" stroke="#f2f3f4" stroke-width="3.200"><circle cx="75" cy="75.300" r="65.800"/><circle cx="75" cy="75.300" r="49.300"/><circle cx="75" cy="75.300" r="32.500"/></g>
<path d="M74.700 10.300A65.800 65.800 0 0 1 83.300 10.900" stroke="#5c6bc6" stroke-width="3.200" stroke-linecap="round" fill="none"/>
<circle cx="75" cy="27" r="2" fill="#dda451"/><circle cx="75" cy="43.800" r="1.800" fill="#ea5455"/>
</svg><span class="t" style="left:428.3px;top:117.80px;line-height:22px;font-size:16px;color:#33373d;font-weight:700;">Total</span><span class="t" style="left:443.3px;top:142.30px;line-height:20px;font-size:12.5px;color:#4a4f56;">2</span></div>
<div class="card" style="left:880px"><span class="t" style="left:15.5px;top:16.00px;line-height:24px;font-size:17px;color:#30343a;">合约交易</span><div class="usdt" style="left:435.100px"><span class="t" style="left:13.7px;top:4.70px;line-height:20px;font-size:11.6px;color:#4b4f56;">USDT</span><svg class="i" style="left:60.1px;top:13.2px;width:7.4px;height:4.3px;color:#2f3237;stroke-width:2.251;"><use href="#cdown"/></svg></div><span class="t" style="left:34px;top:66.30px;line-height:20px;font-size:14px;color:#4a4f56;">类型</span><span class="t" style="left:234.6px;top:66.30px;line-height:20px;font-size:14px;color:#4a4f56;">总计</span><span class="t" style="left:435.6px;top:66.30px;line-height:20px;font-size:14px;color:#4a4f56;">今日</span><div class="dot" style="left:14.7px;top:105.3px;border-color:#5c6bc6"></div><span class="t" style="left:33.5px;top:100.30px;line-height:20px;font-size:14px;color:#4a4f56;">用户总下单量</span><span class="t" style="left:278.8px;top:100.30px;line-height:20px;font-size:14px;color:#4a4f56;letter-spacing:0.62px;">29</span><span class="t" style="left:455.3px;top:100.30px;line-height:20px;font-size:14px;color:#4a4f56;">0</span><div class="dot" style="left:14.7px;top:139.3px;border-color:#dda451"></div><span class="t" style="left:33.5px;top:134.30px;line-height:20px;font-size:14px;color:#4a4f56;">用户盈亏统计</span><span class="t" style="left:244px;top:134.30px;line-height:20px;font-size:14px;color:#4a4f56;letter-spacing:0.62px;">-73209.1646</span><span class="t" style="left:455.3px;top:134.30px;line-height:20px;font-size:14px;color:#4a4f56;">0</span><div class="dot" style="left:14.7px;top:172.3px;border-color:#5c6bc6"></div><span class="t" style="left:33.5px;top:167.30px;line-height:20px;font-size:14px;color:#4a4f56;">总手续费</span><span class="t" style="left:247.6px;top:167.30px;line-height:20px;font-size:14px;color:#4a4f56;letter-spacing:0.62px;">273735</span><span class="t" style="left:455.3px;top:167.30px;line-height:20px;font-size:14px;color:#4a4f56;">0</span><div class="vd" style="left:14px;width:450px"></div><span class="t" style="left:189.8px;top:210.35px;line-height:20px;font-size:13.6px;color:#fff;letter-spacing:0.6px;">View Details</span><svg class="i" style="left:277.8px;top:216.1px;width:8.6px;height:7px;color:#fff;stroke-width:2.338;"><use href="#cc-right"/></svg><div class="a" style="left:516.900px;top:64.100px;width:2.100px;height:37.400px;background:#9cc6ee"></div><div class="a" style="left:516.600px;top:64.100px;width:1.200px;height:6.500px;background:#5a9de0"></div><div class="a" style="left:517.200px;top:101.400px;width:2.900px;height:37.400px;background:#86b9ea"></div><div class="a" style="left:516.100px;top:138.700px;width:4.900px;height:38.100px;background:#80b6e9"></div><div class="a" style="left:516.100px;top:138.700px;width:1px;height:7px;background:#5a9de0"></div><div class="a" style="left:520px;top:138.700px;width:1px;height:4px;background:#5a9de0"></div><div class="a" style="left:514.900px;top:176.700px;width:6.400px;height:56px;background:#7fb5e9"></div><div class="a" style="left:514.900px;top:176.700px;width:1.100px;height:7px;background:#5a9de0"></div><div class="a" style="left:520.300px;top:176.700px;width:2.200px;height:56px;background:#86d0b4"></div><div class="a" style="left:520.500px;top:176.700px;width:1.400px;height:5px;background:#2fae6a"></div><div class="a" style="left:521.400px;top:214px;width:1.100px;height:4px;background:#5a9de0"></div><div class="a" style="left:514.900px;top:225.500px;width:3px;height:7.200px;background:#5799df"></div><div class="a" style="left:520.300px;top:228.600px;width:2.400px;height:4.100px;background:#5b9fd8"></div></div>
<div class="card" style="left:1432px"><span class="t" style="left:15.5px;top:16.00px;line-height:24px;font-size:17px;color:#30343a;">期权交易</span><div class="usdt" style="left:435.100px"><span class="t" style="left:13.7px;top:4.70px;line-height:20px;font-size:11.6px;color:#4b4f56;">USDT</span><svg class="i" style="left:60.1px;top:13.2px;width:7.4px;height:4.3px;color:#2f3237;stroke-width:2.251;"><use href="#cdown"/></svg></div><span class="t" style="left:33.5px;top:66.30px;line-height:20px;font-size:14px;color:#4a4f56;">类型</span><span class="t" style="left:234.5px;top:66.30px;line-height:20px;font-size:14px;color:#4a4f56;">总计</span><span class="t" style="left:435.3px;top:66.30px;line-height:20px;font-size:14px;color:#4a4f56;">今日</span><div class="dot" style="left:14.1px;top:105.3px;border-color:#5c6bc6"></div><span class="t" style="left:33.5px;top:100.30px;line-height:20px;font-size:14px;color:#4a4f56;">用户总下单量</span><span class="t" style="left:215.8px;top:100.30px;line-height:20px;font-size:14px;color:#4a4f56;letter-spacing:0.62px;">182727.0000</span><span class="t" style="left:401.2px;top:100.30px;line-height:20px;font-size:14px;color:#4a4f56;letter-spacing:0.62px;">600.0000</span><div class="dot" style="left:14.1px;top:139.3px;border-color:#dda451"></div><span class="t" style="left:33.5px;top:134.30px;line-height:20px;font-size:14px;color:#4a4f56;">交割结果统计</span><span class="t" style="left:212.7px;top:134.30px;line-height:20px;font-size:14px;color:#4a4f56;letter-spacing:0.62px;">-153258.6000</span><span class="t" style="left:401.2px;top:134.30px;line-height:20px;font-size:14px;color:#4a4f56;letter-spacing:0.62px;">440.0000</span><div class="dot" style="left:14.1px;top:172.3px;border-color:#5c6bc6"></div><span class="t" style="left:33.5px;top:167.30px;line-height:20px;font-size:14px;color:#4a4f56;">总手续费</span><span class="t" style="left:230.9px;top:167.30px;line-height:20px;font-size:14px;color:#4a4f56;letter-spacing:0.62px;">0.0000</span><span class="t" style="left:418px;top:167.30px;line-height:20px;font-size:14px;color:#4a4f56;letter-spacing:0.62px;">0.0000</span><div class="vd" style="left:14px;width:450px"></div><span class="t" style="left:189.8px;top:210.35px;line-height:20px;font-size:13.6px;color:#fff;letter-spacing:0.6px;">View Details</span><svg class="i" style="left:277.8px;top:216.1px;width:8.6px;height:7px;color:#fff;stroke-width:2.338;"><use href="#cc-right"/></svg></div>
<div class="card" style="left:1984px"><span class="t" style="left:16px;top:16.00px;line-height:24px;font-size:17px;color:#30343a;">币币交易</span><div class="usdt" style="left:435.100px"><span class="t" style="left:13.7px;top:4.70px;line-height:20px;font-size:11.6px;color:#4b4f56;">USDT</span><svg class="i" style="left:60.1px;top:13.2px;width:7.4px;height:4.3px;color:#2f3237;stroke-width:2.251;"><use href="#cdown"/></svg></div><div class="dot" style="left:27.8px;top:71.3px;border-color:#5c6bc6"></div><span class="t" style="left:46.6px;top:66.30px;line-height:20px;font-size:14px;color:#4a4f56;">总交易量</span><span class="t" style="right:303.8px;top:66.30px;line-height:20px;font-size:14px;color:#4a4f56;letter-spacing:0.62px;">8135586.716827</span><div class="dot" style="left:27.8px;top:105.3px;border-color:#dda451"></div><span class="t" style="left:46.6px;top:100.30px;line-height:20px;font-size:14px;color:#4a4f56;">总手续费</span><span class="t" style="right:303.8px;top:100.30px;line-height:20px;font-size:14px;color:#4a4f56;letter-spacing:0.62px;">1625.114692</span><div class="dot" style="left:27.8px;top:139.3px;border-color:#5c6bc6"></div><span class="t" style="left:46.6px;top:134.30px;line-height:20px;font-size:14px;color:#4a4f56;">今日交易量</span><span class="t" style="right:303.8px;top:134.30px;line-height:20px;font-size:14px;color:#4a4f56;letter-spacing:0.62px;">6512906</span><div class="dot" style="left:27.8px;top:172.3px;border-color:#dda451"></div><span class="t" style="left:46.6px;top:167.30px;line-height:20px;font-size:14px;color:#4a4f56;">今日手续费</span><span class="t" style="right:303.8px;top:167.30px;line-height:20px;font-size:14px;color:#4a4f56;letter-spacing:0.62px;">0</span><div class="vd" style="left:14px;width:450px"></div><span class="t" style="left:189.8px;top:210.35px;line-height:20px;font-size:13.6px;color:#fff;letter-spacing:0.6px;">View Details</span><svg class="i" style="left:277.8px;top:216.1px;width:8.6px;height:7px;color:#fff;stroke-width:2.338;"><use href="#cc-right"/></svg></div>
<!-- ===== pagination + footer ===== -->
<span class="t" style="left:323px;top:1143.50px;line-height:20px;font-size:14px;color:#7d838a;">从 <b>1</b> 到 <b>5</b> ， 总共 <b>5</b> 条</span>
<div class="a" style="left:2341px;top:1137px;width:64.300px;height:30.200px;background:#fff;border-radius:3.500px;box-shadow:0 3px 6px rgba(30,40,70,.2)"></div>
<span class="t" style="left:2355px;top:1141.80px;line-height:20px;font-size:12px;color:#50555c;letter-spacing:0.25px;">20</span>
<svg class="i" style="left:2392px;top:1150.2px;width:6.8px;height:4.4px;color:#3a3d42;stroke-width:2.124;"><use href="#cdown"/></svg>
<div class="a" style="left:2414.800px;top:1136.700px;width:98.200px;height:32.500px;border-radius:16.300px;background:#f0f1f3;box-shadow:0 2px 4px rgba(30,40,70,.15)"></div>
<svg class="i" style="left:2429.3px;top:1147.9px;width:5.6px;height:8.4px;color:#707070;stroke-width:2.769;"><use href="#cleft"/></svg>
<svg class="i" style="left:2492.6px;top:1147.9px;width:5.6px;height:8.4px;color:#707070;stroke-width:2.769;"><use href="#cright"/></svg>
<div class="a" style="left:2448px;top:1136.100px;width:31px;height:32.700px;border-radius:50%;background:#5c6bc6;color:#fff;font-weight:700;font-size:14.500px;line-height:31.500px;text-align:center">1</div>
<span class="t" style="left:1312.300px;top:1239.900px;line-height:20px;font-size:13px;color:#50555c">Powered by</span>
<span class="t" style="left:1384.300px;top:1239.900px;line-height:20px;font-size:13px;color:#5c6bc6">Dcat Admin</span>
<span class="t" style="left:1459px;top:1239.900px;line-height:20px;font-size:13px;color:#50555c">·</span>
<span class="t" style="left:1468.600px;top:1239.900px;line-height:20px;font-size:13px;color:#50555c">v1.7.9</span>
</body>
</html>
